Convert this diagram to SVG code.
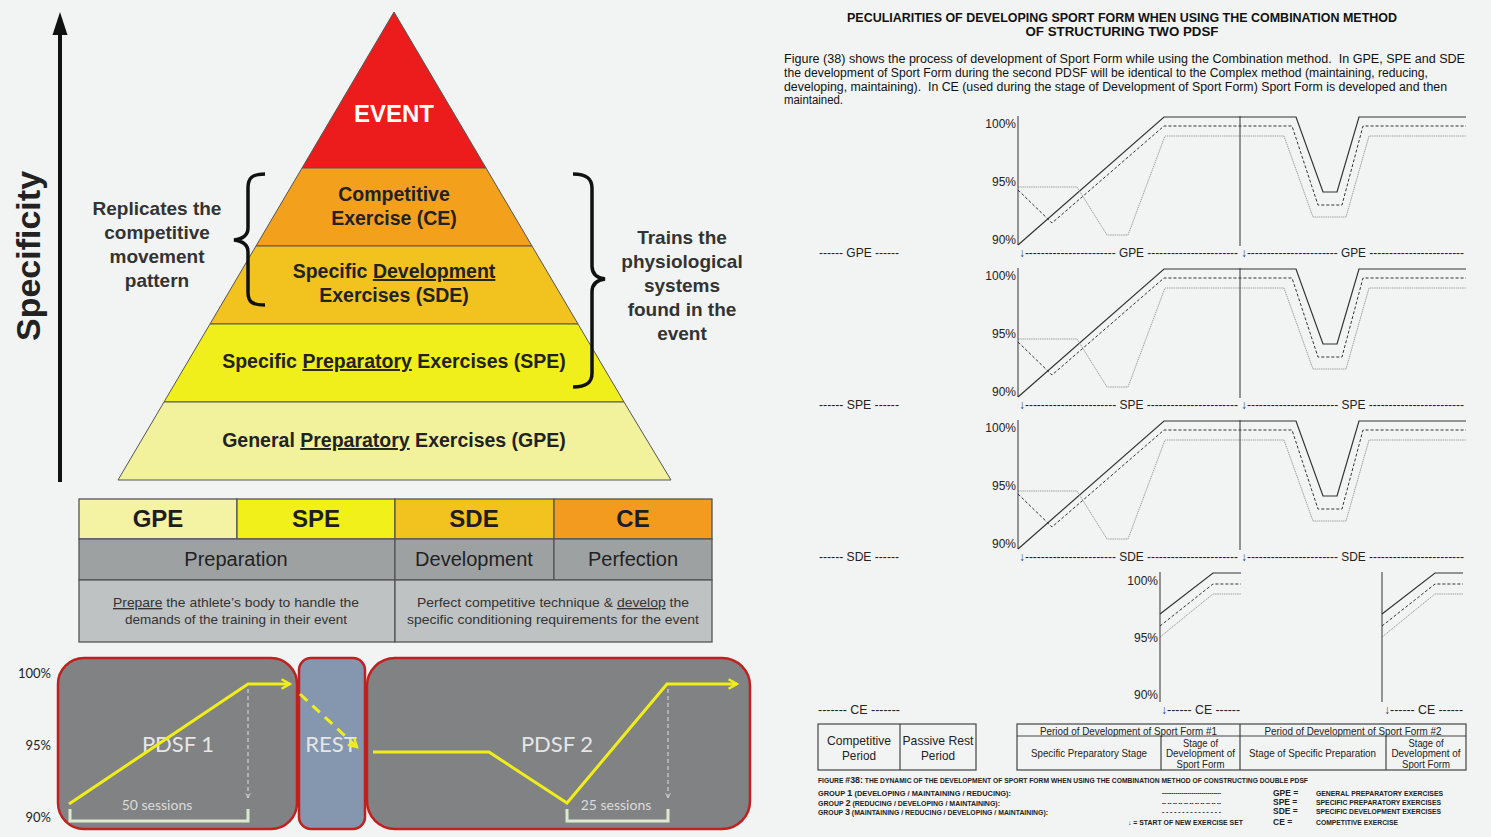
<svg xmlns="http://www.w3.org/2000/svg" width="1491" height="837" viewBox="0 0 1491 837">
<style>
text{font-family:"Liberation Sans",Arial,sans-serif}
.pyr{font-weight:bold;font-size:19.5px;fill:#222;text-anchor:middle}
.side{font-weight:bold;font-size:19px;fill:#333;text-anchor:middle}
.layer{stroke:#555;stroke-width:1}
.cell{stroke:#555;stroke-width:1.3}
.hd{font-weight:bold;font-size:24px;fill:#1e1e1e;text-anchor:middle}
.ph{font-size:20px;fill:#222;text-anchor:middle}
.desc{font-size:13.5px;fill:#333;text-anchor:middle}
.box{stroke:#c0201e;stroke-width:2.5}
.lbl{font-family:Lato,"Open Sans",sans-serif;fill:#e6e6e6;font-size:22px;text-anchor:middle}
.ses{font-family:Lato,"Open Sans",sans-serif;fill:#dcdcdc;font-size:14px;text-anchor:middle}
.pct{font-family:Lato,"Open Sans",sans-serif;font-size:13px;fill:#222;text-anchor:end}
.yl{stroke:#f0ee1a;stroke-width:3;fill:none}
.ax{font-size:12px;fill:#222;text-anchor:end}
.g1{stroke:#333;fill:none;stroke-width:1.2}
.g2{stroke:#333;fill:none;stroke-width:1;stroke-dasharray:3 2}
.g3{stroke:#a0a0a0;fill:none;stroke-width:1;stroke-dasharray:1.5 0.7}
.vl{stroke:#333;stroke-width:1;fill:none}
.row{font-size:12px;fill:#222}
.arr{fill:#28358c}
.tc{font-size:11px;fill:#222;text-anchor:middle}
.tb{fill:none;stroke:#444;stroke-width:1.2}
.tl{font-size:13px;fill:#222;text-anchor:middle}
.tiny{font-weight:bold;font-size:6.5px;fill:#222}
.leg{font-weight:bold;font-size:8.5px;fill:#222}
.para{font-size:12px;fill:#111}
</style>
<defs>
<marker id="ya" viewBox="0 0 10 10" refX="8" refY="5" markerWidth="4" markerHeight="4" orient="auto" markerUnits="strokeWidth">
<path d="M1,1 L8,5 L1,9" fill="none" stroke="#f0ee1a" stroke-width="2"/>
</marker>
<marker id="wa" viewBox="0 0 10 10" refX="9" refY="5" markerWidth="5" markerHeight="5" orient="auto" markerUnits="strokeWidth">
<path d="M1,1 L9,5 L1,9" fill="none" stroke="#cfcfcf" stroke-width="1.5"/>
</marker>
<g id="curves">
<path class="g1" d="M1018,245 L1164,117 L1296,117 L1323,192 L1337,192 L1359,117 L1466,117"/>
<path class="g2" d="M1018,190 L1052,223 L1164,126 L1292,126 L1318,205 L1342,205 L1363,126 L1466,126"/>
<path class="g3" d="M1018,187 L1077,187 L1107,235 L1128,235 L1165,136 L1284,136 L1313,217 L1346,217 L1369,136 L1466,136"/>
<path class="vl" d="M1018,116 V245 M1240,116 V246"/>
</g>
<g id="cecurves">
<path class="g1" d="M1160,614 L1213,573 L1241,573"/>
<path class="g2" d="M1160,626 L1213,584 L1241,584"/>
<path class="g3" d="M1160,637 L1213,594 L1241,594"/>
<path class="vl" d="M1160,572 V702"/>
</g>
</defs>
<rect width="1491" height="837" fill="#f2f4f4"/>

<g id="specificity">
<line x1="60" y1="482" x2="60" y2="32" stroke="#111" stroke-width="4"/>
<polygon points="60,12 52.5,35 67.5,35" fill="#111"/>
<text transform="translate(40,256) rotate(-90)" font-weight="bold" font-size="34" fill="#222" text-anchor="middle">Specificity</text>
</g>

<g id="pyramid">
<g id="layer-event"><polygon class="layer" points="394,12 486,168 302,168" fill="#ed1c1c"/>
<text x="394" y="122" font-weight="bold" font-size="24" fill="#fff" text-anchor="middle">EVENT</text></g>
<g id="layer-ce"><polygon class="layer" points="302,168 486,168 532,246 256,246" fill="#f3a01c"/>
<text class="pyr" x="394" y="201">Competitive</text><text class="pyr" x="394" y="225">Exercise (CE)</text></g>
<g id="layer-sde"><polygon class="layer" points="256,246 532,246 578,324 210,324" fill="#f2c21f"/>
<text class="pyr" x="394" y="278">Specific <tspan text-decoration="underline">Development</tspan></text><text class="pyr" x="394" y="302">Exercises (SDE)</text></g>
<g id="layer-spe"><polygon class="layer" points="210,324 578,324 624,402 164,402" fill="#f1ef1b"/>
<text class="pyr" x="394" y="368">Specific <tspan text-decoration="underline">Preparatory</tspan> Exercises (SPE)</text></g>
<g id="layer-gpe"><polygon class="layer" points="164,402 624,402 671,480 118,480" fill="#f3f29c"/>
<text class="pyr" x="394" y="447">General <tspan text-decoration="underline">Preparatory</tspan> Exercises (GPE)</text></g>
</g>

<g id="brace-left">
<path d="M265,174 C252,174 248,178 248,188 L248,228 C248,236 242,239 234,240 C242,241 248,244 248,252 L248,292 C248,302 252,305 265,305" fill="none" stroke="#111" stroke-width="3.5"/>
<text class="side" x="157" y="215">Replicates the</text>
<text class="side" x="157" y="239">competitive</text>
<text class="side" x="157" y="263">movement</text>
<text class="side" x="157" y="287">pattern</text>
</g>
<g id="brace-right">
<path d="M573,174 C586,174 592,178 592,188 L592,266 C592,274 597,278 605,279 C597,280 592,284 592,292 L592,373 C592,383 586,387 573,387" fill="none" stroke="#111" stroke-width="3.5"/>
<text class="side" x="682" y="244">Trains the</text>
<text class="side" x="682" y="268">physiological</text>
<text class="side" x="682" y="292">systems</text>
<text class="side" x="682" y="316">found in the</text>
<text class="side" x="682" y="340">event</text>
</g>

<g id="phase-table">
<rect class="cell" x="79" y="499" width="158" height="40" fill="#f3f3a3"/>
<rect class="cell" x="237" y="499" width="158" height="40" fill="#f2f01b"/>
<rect class="cell" x="395" y="499" width="159" height="40" fill="#f2c21f"/>
<rect class="cell" x="554" y="499" width="158" height="40" fill="#f39b1f"/>
<text class="hd" x="158" y="527">GPE</text>
<text class="hd" x="316" y="527">SPE</text>
<text class="hd" x="474" y="527">SDE</text>
<text class="hd" x="633" y="527">CE</text>
<rect class="cell" x="79" y="539" width="316" height="41" fill="#9ea1a2"/>
<rect class="cell" x="395" y="539" width="159" height="41" fill="#9ea1a2"/>
<rect class="cell" x="554" y="539" width="158" height="41" fill="#9ea1a2"/>
<text class="ph" x="236" y="566">Preparation</text>
<text class="ph" x="474" y="566">Development</text>
<text class="ph" x="633" y="566">Perfection</text>
<rect class="cell" x="79" y="580" width="316" height="62" fill="#bfc2c3"/>
<rect class="cell" x="395" y="580" width="317" height="62" fill="#bfc2c3"/>
<text class="desc" x="236" y="607" textLength="246" lengthAdjust="spacingAndGlyphs"><tspan text-decoration="underline">Prepare</tspan> the athlete’s body to handle the</text>
<text class="desc" x="236" y="624">demands of the training in their event</text>
<text class="desc" x="553" y="607" textLength="272" lengthAdjust="spacingAndGlyphs">Perfect competitive technique &amp; <tspan text-decoration="underline">develop</tspan> the</text>
<text class="desc" x="553" y="624" textLength="292" lengthAdjust="spacingAndGlyphs">specific conditioning requirements for the event</text>
</g>

<g id="pdsf-axis">
<text class="pct" x="51" y="678">100%</text>
<text class="pct" x="51" y="750">95%</text>
<text class="pct" x="51" y="822">90%</text>
</g>
<g id="pdsf1">
<rect class="box" x="58" y="658" width="239" height="171" rx="26" fill="#808283"/>
<text class="lbl" x="178" y="752">PDSF 1</text>
<text class="ses" x="157" y="810">50 sessions</text>
</g>
<g id="rest">
<rect class="box" x="299" y="658" width="66" height="171" rx="12" fill="#8497ae"/>
<text class="lbl" x="331" y="752">REST</text>
</g>
<g id="pdsf2">
<rect class="box" x="367" y="658" width="383" height="171" rx="28" fill="#808283"/>
<text class="lbl" x="557" y="752">PDSF 2</text>
<text class="ses" x="616" y="810">25 sessions</text>
</g>

<g id="connectors">
<path class="yl" d="M69,804 L248,684 L290,684" marker-end="url(#ya)"/>
<path class="yl" d="M300,694 L357,747" stroke-dasharray="10 7" marker-end="url(#ya)"/>
<path class="yl" d="M373,752 L489,752 L567,803 L667,684 L737,684" marker-end="url(#ya)"/>
<path d="M248,689 V798" stroke="#cfcfcf" stroke-width="1.2" stroke-dasharray="4 3" fill="none" marker-end="url(#wa)"/>
<path d="M668,689 V798" stroke="#cfcfcf" stroke-width="1.2" stroke-dasharray="4 3" fill="none" marker-end="url(#wa)"/>
<path d="M70,809 V821 H248 V809" stroke="#dde8d0" stroke-width="3" fill="none"/>
<path d="M567,809 V821 H668 V809" stroke="#dde8d0" stroke-width="3" fill="none"/>
</g>

<g id="title">
<text x="1122" y="22" font-weight="bold" font-size="12" fill="#111" text-anchor="middle" textLength="550" lengthAdjust="spacingAndGlyphs">PECULIARITIES OF DEVELOPING SPORT FORM WHEN USING THE COMBINATION METHOD</text>
<text x="1122" y="36" font-weight="bold" font-size="12" fill="#111" text-anchor="middle" textLength="193" lengthAdjust="spacingAndGlyphs">OF STRUCTURING TWO PDSF</text>
<text class="para" x="784" y="63" xml:space="preserve" textLength="681" lengthAdjust="spacingAndGlyphs">Figure (38) shows the process of development of Sport Form while using the Combination method.  In GPE, SPE and SDE</text>
<text class="para" x="784" y="77" textLength="644" lengthAdjust="spacingAndGlyphs">the development of Sport Form during the second PDSF will be identical to the Complex method (maintaining, reducing,</text>
<text class="para" x="784" y="91" xml:space="preserve" textLength="663" lengthAdjust="spacingAndGlyphs">developing, maintaining).  In CE (used during the stage of Development of Sport Form) Sport Form is developed and then</text>
<text class="para" x="784" y="104" textLength="59" lengthAdjust="spacingAndGlyphs">maintained.</text>
</g>

<g id="chart-gpe">
<use href="#curves"/>
<text class="ax" x="1016" y="128">100%</text><text class="ax" x="1016" y="186">95%</text><text class="ax" x="1016" y="244">90%</text>
<text class="row" x="859" y="257" text-anchor="middle" textLength="80" lengthAdjust="spacingAndGlyphs">------ GPE ------</text>
<text class="row" x="1019" y="257" textLength="219" lengthAdjust="spacingAndGlyphs"><tspan class="arr">↓</tspan>----------------------- GPE -----------------------</text>
<text class="row" x="1241" y="257" textLength="223" lengthAdjust="spacingAndGlyphs"><tspan class="arr">↓</tspan>----------------------- GPE ------------------------</text>
</g>
<g id="chart-spe">
<use href="#curves" transform="translate(0,152)"/>
<text class="ax" x="1016" y="280">100%</text><text class="ax" x="1016" y="338">95%</text><text class="ax" x="1016" y="396">90%</text>
<text class="row" x="859" y="409" text-anchor="middle" textLength="80" lengthAdjust="spacingAndGlyphs">------ SPE ------</text>
<text class="row" x="1019" y="409" textLength="219" lengthAdjust="spacingAndGlyphs"><tspan class="arr">↓</tspan>----------------------- SPE -----------------------</text>
<text class="row" x="1241" y="409" textLength="223" lengthAdjust="spacingAndGlyphs"><tspan class="arr">↓</tspan>----------------------- SPE ------------------------</text>
</g>
<g id="chart-sde">
<use href="#curves" transform="translate(0,304)"/>
<text class="ax" x="1016" y="432">100%</text><text class="ax" x="1016" y="490">95%</text><text class="ax" x="1016" y="548">90%</text>
<text class="row" x="859" y="561" text-anchor="middle" textLength="80" lengthAdjust="spacingAndGlyphs">------ SDE ------</text>
<text class="row" x="1019" y="561" textLength="219" lengthAdjust="spacingAndGlyphs"><tspan class="arr">↓</tspan>----------------------- SDE -----------------------</text>
<text class="row" x="1241" y="561" textLength="223" lengthAdjust="spacingAndGlyphs"><tspan class="arr">↓</tspan>----------------------- SDE ------------------------</text>
</g>
<g id="chart-ce">
<use href="#cecurves"/>
<use href="#cecurves" transform="translate(222,0)"/>
<text class="ax" x="1158" y="585">100%</text><text class="ax" x="1158" y="642">95%</text><text class="ax" x="1158" y="699">90%</text>
<text class="row" x="859" y="714" text-anchor="middle" textLength="82" lengthAdjust="spacingAndGlyphs">------- CE -------</text>
<text class="row" x="1161" y="714" textLength="79" lengthAdjust="spacingAndGlyphs"><tspan class="arr">↓</tspan>------ CE ------</text>
<text class="row" x="1384" y="714" textLength="79" lengthAdjust="spacingAndGlyphs"><tspan class="arr">↓</tspan>------ CE ------</text>
</g>

<g id="period-table-left">
<rect class="tb" x="818" y="724" width="158" height="46"/>
<line class="tb" x1="900" y1="724" x2="900" y2="770"/>
<text class="tl" x="859" y="745" textLength="64" lengthAdjust="spacingAndGlyphs">Competitive</text>
<text class="tl" x="859" y="759.5" textLength="34" lengthAdjust="spacingAndGlyphs">Period</text>
<text class="tl" x="938" y="745" textLength="71" lengthAdjust="spacingAndGlyphs">Passive Rest</text>
<text class="tl" x="938" y="759.5" textLength="34" lengthAdjust="spacingAndGlyphs">Period</text>
</g>
<g id="period-table-right">
<rect class="tb" x="1017" y="724" width="449" height="46"/>
<path class="tb" d="M1017,736 H1466 M1240,724 V770 M1161,736 V770 M1386,736 V770"/>
<text class="tc" x="1128.5" y="734.5" textLength="177" lengthAdjust="spacingAndGlyphs">Period of Development of Sport Form #1</text>
<text class="tc" x="1353" y="734.5" textLength="177" lengthAdjust="spacingAndGlyphs">Period of Development of Sport Form #2</text>
<text class="tc" x="1089" y="757" textLength="116" lengthAdjust="spacingAndGlyphs">Specific Preparatory Stage</text>
<text class="tc" x="1200.5" y="746.5" textLength="35" lengthAdjust="spacingAndGlyphs">Stage of</text>
<text class="tc" x="1200.5" y="757" textLength="69" lengthAdjust="spacingAndGlyphs">Development of</text>
<text class="tc" x="1200.5" y="768" textLength="48" lengthAdjust="spacingAndGlyphs">Sport Form</text>
<text class="tc" x="1312.5" y="757" textLength="127" lengthAdjust="spacingAndGlyphs">Stage of Specific Preparation</text>
<text class="tc" x="1426" y="746.5" textLength="35" lengthAdjust="spacingAndGlyphs">Stage of</text>
<text class="tc" x="1426" y="757" textLength="69" lengthAdjust="spacingAndGlyphs">Development of</text>
<text class="tc" x="1426" y="768" textLength="48" lengthAdjust="spacingAndGlyphs">Sport Form</text>
</g>

<g id="caption">
<text class="tiny" x="818" y="783" textLength="490" lengthAdjust="spacingAndGlyphs">FIGURE <tspan font-size="8.5">#38:</tspan> THE DYNAMIC OF THE DEVELOPMENT OF SPORT FORM WHEN USING THE COMBINATION METHOD OF CONSTRUCTING DOUBLE PDSF</text>
<text class="tiny" x="818" y="796" textLength="193" lengthAdjust="spacingAndGlyphs">GROUP <tspan font-size="8.5">1</tspan> (DEVELOPING / MAINTAINING / REDUCING):</text>
<text class="tiny" x="818" y="806" textLength="182" lengthAdjust="spacingAndGlyphs">GROUP <tspan font-size="8.5">2</tspan> (REDUCING / DEVELOPING / MAINTAINING):</text>
<text class="tiny" x="818" y="815" textLength="230" lengthAdjust="spacingAndGlyphs">GROUP <tspan font-size="8.5">3</tspan> (MAINTAINING / REDUCING / DEVELOPING / MAINTAINING):</text>
<text class="tiny" x="1162" y="795" textLength="59" lengthAdjust="spacingAndGlyphs">------------------------------</text>
<text class="tiny" x="1162" y="805" textLength="59" lengthAdjust="spacingAndGlyphs">-- -- -- -- -- -- -- -- -- -- --</text>
<text class="tiny" x="1162" y="814" textLength="59" lengthAdjust="spacingAndGlyphs">- - - - - - - - - - - - - - -</text>
<text class="tiny" x="1128" y="825" textLength="115" lengthAdjust="spacingAndGlyphs"><tspan class="arr">↓</tspan> = START OF NEW EXERCISE SET</text>
<text class="leg" x="1273" y="796">GPE =</text>
<text class="leg" x="1273" y="805">SPE =</text>
<text class="leg" x="1273" y="814">SDE =</text>
<text class="leg" x="1273" y="825">CE =</text>
<text class="tiny" x="1316" y="796" textLength="127" lengthAdjust="spacingAndGlyphs">GENERAL PREPARATORY EXERCISES</text>
<text class="tiny" x="1316" y="805" textLength="125" lengthAdjust="spacingAndGlyphs">SPECIFIC PREPARATORY EXERCISES</text>
<text class="tiny" x="1316" y="814" textLength="125" lengthAdjust="spacingAndGlyphs">SPECIFIC DEVELOPMENT EXERCISES</text>
<text class="tiny" x="1316" y="825" textLength="82" lengthAdjust="spacingAndGlyphs">COMPETITIVE EXERCISE</text>
</g>
</svg>
